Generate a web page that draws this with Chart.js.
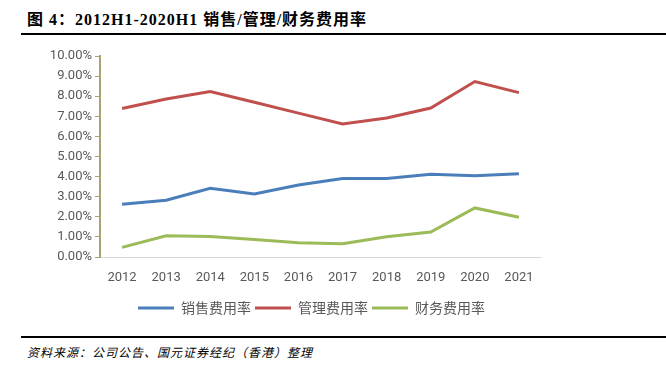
<!DOCTYPE html>
<html>
<head>
<meta charset="utf-8">
<script src="https://cdn.jsdelivr.net/npm/chart.js@4"></script>
<style>
  body { margin: 0; width: 666px; height: 376px; background: #fff; position: relative; overflow: hidden; }
  #title { position: absolute; left: 27px; top: 6px; font: bold 16px "Liberation Serif", "Noto Sans CJK SC", serif; letter-spacing: 1px; color: #000; white-space: nowrap; }
  .rule { position: absolute; left: 21px; right: 0; height: 2px; background: #000; }
  #source { position: absolute; left: 27px; top: 343px; font: italic 12px "Noto Sans CJK SC", sans-serif; letter-spacing: 1px; color: #000; white-space: nowrap; }
  #wrap { position: absolute; left: 0; top: 41px; width: 666px; height: 285px; }
</style>
</head>
<body>
<div id="title">图 4：2012H1-2020H1 销售/管理/财务费用率</div>
<div class="rule" style="top:33px"></div>
<div id="wrap"><canvas id="myChart"></canvas></div>
<div class="rule" style="top:336px"></div>
<div id="source">资料来源：公司公告、国元证券经纪（香港）整理</div>
<script>
// years on the x axis
const years = ["2012", "2013", "2014", "2015", "2016", "2017", "2018", "2019", "2020", "2021"];

// expense ratios, in percent
const salesRate = [2.62, 2.82, 3.42, 3.13, 3.58, 3.91, 3.91, 4.12, 4.04, 4.14];
const adminRate = [7.39, 7.86, 8.23, 7.70, 7.16, 6.62, 6.92, 7.41, 8.73, 8.18];
const financeRate = [0.48, 1.06, 1.02, 0.87, 0.71, 0.66, 1.01, 1.24, 2.44, 1.98];

const seriesNames = ["销售费用率", "管理费用率", "财务费用率"];

const tickColor = "#595959";

// nudge the legend a little left so it sits where the original one does
const legendShift = {
  id: "legendShift",
  afterLayout(chart) {
    chart.legend.left -= 9;
    chart.legend.right -= 9;
  },
};

new Chart("myChart", {
  type: "line",
  data: {
    labels: years,
    datasets: [
      { label: seriesNames[0], data: salesRate, borderColor: "#4a7ebb", backgroundColor: "#4a7ebb", borderWidth: 3 },
      { label: seriesNames[1], data: adminRate, borderColor: "#c0504d", backgroundColor: "#c0504d", borderWidth: 3 },
      { label: seriesNames[2], data: financeRate, borderColor: "#9bbb59", backgroundColor: "#9bbb59", borderWidth: 3 },
    ],
  },
  options: {
    responsive: true,
    maintainAspectRatio: false,
    animation: false,
    elements: {
      line: { tension: 0 },
      point: { radius: 0, hoverRadius: 0 },
    },
    layout: { padding: { left: 0, right: 125, top: 15, bottom: 1 } },
    scales: {
      x: {
        offset: true,
        afterFit: (scale) => { scale.height = 40; },
        grid: { display: false },
        border: { color: "#d9d9d9", width: 1 },
        ticks: { color: tickColor, font: { family: "Roboto, 'Noto Sans', sans-serif", size: 13 }, padding: 5, maxRotation: 0 },
      },
      y: {
        min: 0,
        max: 10,
        afterFit: (scale) => { scale.width = 100; },
        grid: { drawOnChartArea: false, drawTicks: true, tickLength: 5, color: "#a8a373" },
        border: { color: "#a8a373", width: 2 },
        ticks: {
          stepSize: 1,
          color: tickColor,
          padding: 3,
          font: { family: "Roboto, 'Noto Sans', sans-serif", size: 13 },
          callback: (v) => v.toFixed(2) + "%",
        },
      },
    },
    plugins: {
      tooltip: { enabled: false },
      legend: {
        position: "bottom",
        fullSize: false,
        labels: {
          usePointStyle: true,
          pointStyle: "line",
          pointStyleWidth: 36,
          padding: 4,
          color: tickColor,
          font: { family: "'Noto Sans CJK SC', sans-serif", size: 14 },
        },
      },
    },
  },
  plugins: [legendShift],
});
</script>
</body>
</html>
